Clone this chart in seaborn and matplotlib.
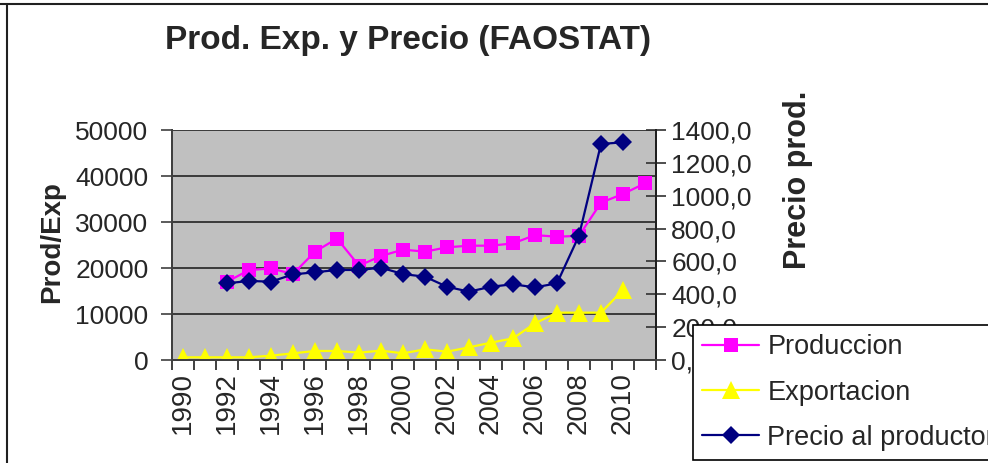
import numpy as np
import pandas as pd
import matplotlib.pyplot as plt
import seaborn as sns
from matplotlib.lines import Line2D
from matplotlib.ticker import FuncFormatter, MultipleLocator, FixedLocator

# Data
years = list(range(1990, 2012))
produccion = [np.nan, np.nan, 17000, 19550, 19900, 18700, 23550, 26400, 20500, 22600,
              24000, 23550, 24500, 24850, 24850, 25350, 27150, 26800, 27000, 34200,
              36100, 38400]
exportacion = [580, 580, 580, 580, 940, 1450, 1960, 1960, 1600, 2030, 1450, 2320,
               1810, 2750, 3770, 4710, 7970, 10290, 10290, 10290, 15220, np.nan]
precio = [np.nan, np.nan, 467, 481, 477, 521, 534, 548, 548, 562, 523, 507, 446, 416,
          446, 461, 442, 467, 757, 1315, 1325, np.nan]

df = pd.DataFrame({'pos': range(len(years)), 'Año': years, 'Produccion': produccion,
                   'Exportacion': exportacion, 'Precio al productor': precio})

sns.set_style('white')
plt.rcParams['font.family'] = ['Liberation Sans', 'DejaVu Sans']

fig = plt.figure(figsize=(9.88, 4.63), dpi=100)
ax = fig.add_axes([172 / 988, 1 - 360 / 463, 484 / 988, 230 / 463])
ax.set_facecolor('#C0C0C0')

sns.lineplot(data=df, x='pos', y='Produccion', ax=ax, color='#FF00FF', marker='s',
             markersize=10.5, markeredgewidth=0, linewidth=1.6, label='Produccion')
sns.lineplot(data=df, x='pos', y='Exportacion', ax=ax, color='#FFFF00', marker='^',
             markersize=12.5, markeredgewidth=0, linewidth=1.6, label='Exportacion')

ax2 = ax.twinx()
sns.lineplot(data=df, x='pos', y='Precio al productor', ax=ax2, color='#000080', marker='D',
             markersize=9.3, markeredgewidth=0, linewidth=1.6, label='Precio al productor')

# left axis
ax.set_xlim(-0.5, len(years) - 0.5)
ax.set_ylim(0, 50000)
ax.yaxis.set_major_locator(MultipleLocator(10000))
ax.grid(axis='y', color='#3a3a3a', linewidth=1.4)
ax.set_axisbelow(True)
ax.tick_params(axis='y', direction='out', length=8, width=1.2, color='#404040',
               labelsize=19, pad=9, left=True)
ax.set_ylabel('Prod/Exp', fontsize=20, fontweight='bold')
ax.yaxis.set_label_coords(-0.22, 0.513)

# category axis: ticks at boundaries, labels on even years
ax.xaxis.set_major_locator(FixedLocator([i for i, y in enumerate(years) if y % 2 == 0]))
ax.set_xticklabels([str(y) for y in years if y % 2 == 0], rotation=90)
ax.xaxis.set_minor_locator(FixedLocator([i - 0.5 for i in range(len(years) + 1)]))
ax.tick_params(axis='x', which='major', length=0, labelsize=20, pad=9)
ax.tick_params(axis='x', which='minor', direction='out', length=7, width=1.2,
               color='#202020', bottom=True)
ax.set_xlabel('')

# right axis
ax2.set_ylim(0, 1400)
ax2.yaxis.set_major_locator(MultipleLocator(200))
ax2.yaxis.set_major_formatter(FuncFormatter(lambda v, p: f'{v:.1f}'.replace('.', ',')))
ax2.tick_params(axis='y', direction='inout', length=14, width=1.2, color='#303030',
                labelsize=19, pad=4, right=True)
ax2.set_ylabel('Precio prod.', fontsize=22, fontweight='bold')
ax2.yaxis.set_label_coords(1.262, 0.783)

for a in (ax, ax2):
    a.spines['top'].set_visible(False)
    a.spines['left'].set_color('#404040')
    a.spines['left'].set_linewidth(1.4)
    a.spines['bottom'].set_color('#404040')
    a.spines['bottom'].set_linewidth(1.4)
    a.spines['right'].set_color('#202020')
    a.spines['right'].set_linewidth(1.4)

# legend combined from both axes
h1, l1 = ax.get_legend_handles_labels()
h2, l2 = ax2.get_legend_handles_labels()
ax.get_legend().remove()
ax2.get_legend().remove()
leg = fig.legend(h1 + h2, l1 + l2, loc='upper left', bbox_to_anchor=(693 / 988, 1 - 325 / 463),
                 fontsize=19.5, frameon=True, fancybox=False, framealpha=1, edgecolor='black',
                 borderpad=0.35, labelspacing=0.71, handlelength=2.1, handletextpad=0.3,
                 borderaxespad=0)
leg.get_frame().set_linewidth(1.2)

fig.text(408 / 988, 1 - 40 / 463, 'Prod. Exp. y Precio (FAOSTAT)', fontsize=24,
         fontweight='bold', ha='center', va='center')

# outer chart border
fig.add_artist(Line2D([7 / 988, 7 / 988], [0, 1 - 4 / 463], color='#202020', linewidth=1.5))
fig.add_artist(Line2D([0, 1], [1 - 4 / 463, 1 - 4 / 463], color='#202020', linewidth=1.5))

fig.savefig('out.png', dpi=100)
